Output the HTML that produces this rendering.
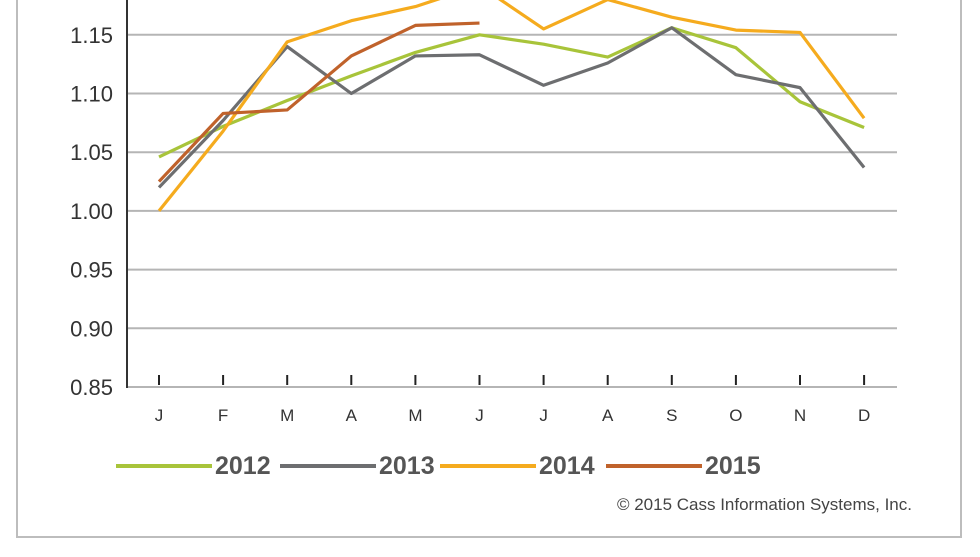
<!DOCTYPE html>
<html><head><meta charset="utf-8"><style>
body{margin:0;background:#fff;width:980px;height:552px;overflow:hidden;font-family:"Liberation Sans",sans-serif}
</style></head><body>
<svg width="980" height="552" viewBox="0 0 980 552">
<rect x="17" y="-5" width="944" height="542" fill="#fff" stroke="#bdbdbd" stroke-width="2"/>
<g id="grid"></g><g id="series"></g><g id="axes"></g>
<g id="legend" font-weight="bold" font-size="25" fill="#555"></g>
<text x="912" y="510" text-anchor="end" font-size="17" fill="#444">© 2015 Cass Information Systems, Inc.</text>
</svg>
<script>
const months=["J","F","M","A","M","J","J","A","S","O","N","D"];
const yTicks=[0.85,0.90,0.95,1.00,1.05,1.10,1.15];
const names=["2012","2013","2014","2015"];
const colors=["#a8c43a","#6d6e70","#f5ab1e","#c0622b"];
const s2012=[1.046,1.072,1.094,1.115,1.135,1.150,1.142,1.131,1.156,1.139,1.093,1.071];
const s2013=[1.020,1.077,1.140,1.100,1.132,1.133,1.107,1.126,1.156,1.116,1.105,1.037];
const s2014=[1.000,1.068,1.144,1.162,1.174,1.192,1.155,1.180,1.165,1.154,1.152,1.079];
const s2015=[1.025,1.083,1.086,1.132,1.158,1.160];
const series=[s2012,s2013,s2014,s2015];
const NS="http://www.w3.org/2000/svg";
const x=i=>159+i*64.1;
const y=v=>387-(v-0.85)/0.05*58.7;
function mk(t,a,p){const e=document.createElementNS(NS,t);for(const k in a)e.setAttribute(k,a[k]);p.appendChild(e);return e;}
const g=document.getElementById('grid'),ax=document.getElementById('axes'),sg=document.getElementById('series'),lg=document.getElementById('legend');
yTicks.forEach(v=>{
 if(v>0.85){const l=mk('line',{x1:127,x2:897,y1:y(v),y2:y(v),stroke:'#b5b5b5','stroke-width':2},g);
 
 }
 const t=mk('text',{x:113,y:y(v)+8,'text-anchor':'end','font-size':22,fill:'#333'},ax);t.textContent=v.toFixed(2);
 
 
});
const base=mk('line',{x1:127,x2:897,y1:387,y2:387,stroke:'#b5b5b5','stroke-width':2},ax);


const ya=mk('line',{x1:127,x2:127,y1:0,y2:388,stroke:'#333','stroke-width':2},ax);


months.forEach((m,i)=>{
 const tk=mk('line',{x1:x(i),x2:x(i),y1:375,y2:385,stroke:'#222','stroke-width':2},ax);
 
 
 const t=mk('text',{x:x(i),y:421,'text-anchor':'middle','font-size':17,fill:'#333'},ax);t.textContent=m;
 
 
});
series.forEach((s,k)=>{
 const p=mk('polyline',{points:s.map((v,i)=>x(i)+','+y(v)).join(' '),fill:'none',stroke:colors[k],'stroke-width':3.2,'stroke-linejoin':'round'},sg);
 
 
});
const lx=[116,280,440,606];
names.forEach((n,k)=>{
 const l=mk('line',{x1:lx[k],x2:lx[k]+96,y1:466,y2:466,stroke:colors[k],'stroke-width':4},lg);
 
 
 const t=mk('text',{x:lx[k]+99,y:474},lg);t.textContent=n;
 
 
});
</script>
</body></html>
